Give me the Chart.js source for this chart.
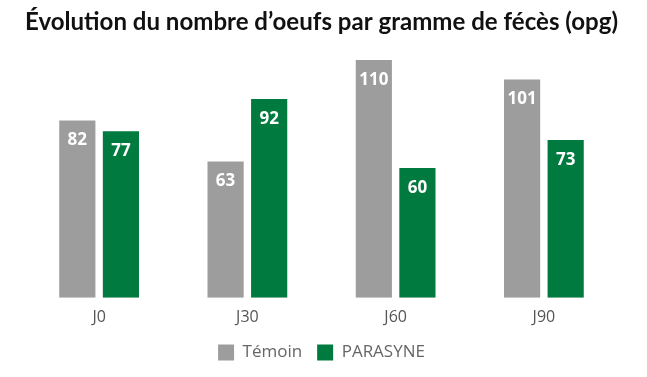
<!DOCTYPE html>
<html><head><meta charset="utf-8">
<script src="https://cdn.jsdelivr.net/npm/chart.js@4"></script>
<style>html,body{margin:0;padding:0;background:#fff}#w{width:647px;height:377px}</style>
</head><body><div id="w"><canvas id="c"></canvas></div>
<script>
const categories = ['J0', 'J30', 'J60', 'J90'];
const temoin = [82, 63, 110, 101];
const parasyne = [77, 92, 60, 73];
const seriesNames = ['Témoin', 'PARASYNE'];
const titleText = 'Évolution du nombre d’oeufs par gramme de fécès (opg)';

const valueLabels = {
  id: 'valueLabels',
  afterDatasetsDraw(chart) {
    const ctx = chart.ctx;
    ctx.save();
    ctx.fillStyle = '#fff';
    ctx.font = 'bold 17px "Open Sans"';
    ctx.textAlign = 'center';
    ctx.textBaseline = 'middle';
    chart.data.datasets.forEach((ds, i) => {
      chart.getDatasetMeta(i).data.forEach((bar, j) => {
        ctx.fillText(String(ds.data[j]), bar.x, bar.y + 20);
      });
    });
    ctx.restore();
  }
};

new Chart(document.getElementById('c'), {
  type: 'bar',
  data: {
    labels: categories,
    datasets: [
      { label: seriesNames[0], data: temoin, backgroundColor: '#9d9d9d' },
      { label: seriesNames[1], data: parasyne, backgroundColor: '#007a3e' }
    ]
  },
  options: {
    responsive: true, maintainAspectRatio: false, animation: false,
    devicePixelRatio: 1,
    layout: { padding: { left: 25, right: 29, top: 0, bottom: 6 } },
    datasets: { bar: { categoryPercentage: 0.588, barPercentage: 0.83 } },
    plugins: {
      title: { display: true, text: titleText, align: 'start', color: '#111',
        font: { family: 'Lato', size: 25, weight: 'bold' }, padding: { top: 7, bottom: 23 } },
      legend: { position: 'bottom', labels: { boxWidth: 16, boxHeight: 16, color: '#666', padding: 15,
        font: { family: 'Open Sans', size: 17 } } },
      tooltip: { enabled: false }
    },
    scales: {
      x: { grid: { display: false }, border: { display: false },
        ticks: { color: '#555', font: { family: 'Open Sans', size: 16 }, padding: 2 } },
      y: { display: false, min: 0, max: 110 }
    }
  },
  plugins: [valueLabels]
});
</script></body></html>
